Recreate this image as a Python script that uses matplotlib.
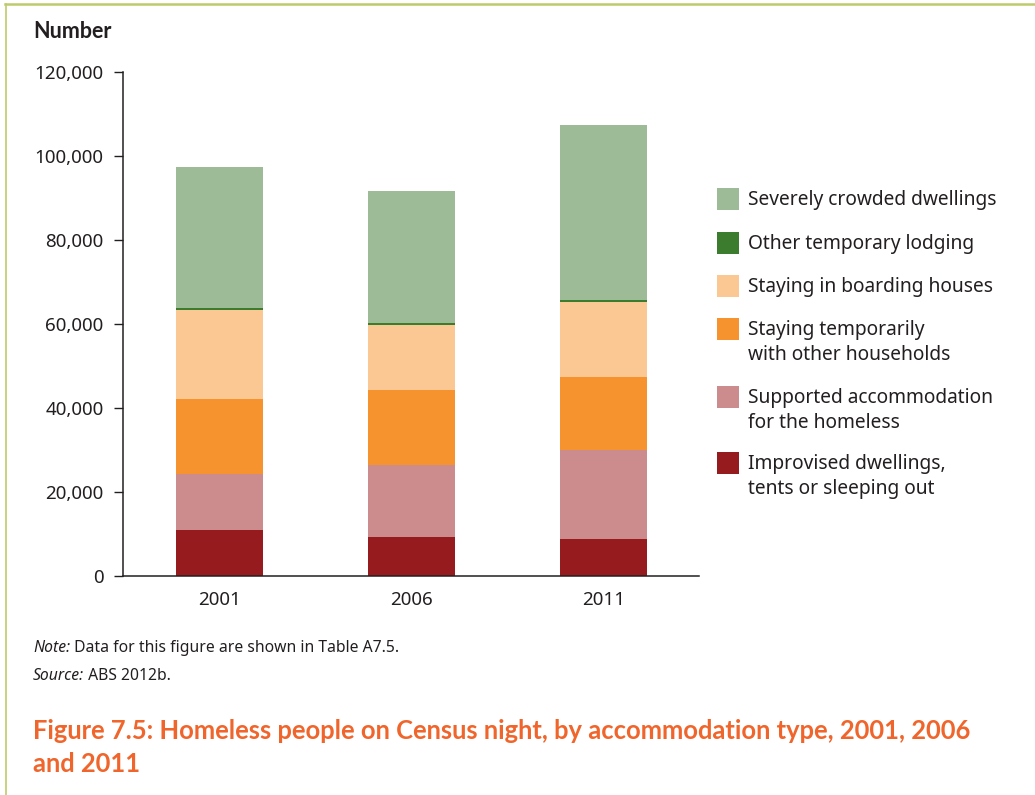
import matplotlib
matplotlib.use("Agg")
import matplotlib.pyplot as plt
from matplotlib.patches import Rectangle
from matplotlib.lines import Line2D
from matplotlib.ticker import FuncFormatter
import numpy as np

plt.rcParams["font.family"] = ["Noto Sans", "DejaVu Sans"]
BOLD = ["Lato", "Open Sans", "DejaVu Sans"]

years = ["2001", "2006", "2011"]

# Stacked from the bottom up
categories = [
    "Improvised dwellings,\ntents or sleeping out",
    "Supported accommodation\nfor the homeless",
    "Staying temporarily\nwith other households",
    "Staying in boarding houses",
    "Other temporary lodging",
    "Severely crowded dwellings",
]
improvised = [11000, 9350, 8800]
supported  = [13270, 17140, 21200]
staying    = [17930, 17790, 17450]
boarding   = [21190, 15470, 17670]
other_temp = [340, 550, 600]
crowded    = [33640, 31360, 41670]
series = [improvised, supported, staying, boarding, other_temp, crowded]

colors = ["#961B1F", "#CC8B8C", "#F7932F", "#FBC894", "#3B7C2E", "#9DBB96"]

INK    = "#231F20"
ORANGE = "#F0652B"
FRAME  = "#BFCB6A"

W, H = 1035, 795
fig = plt.figure(figsize=(W / 100, H / 100), dpi=100)
ax = fig.add_axes([123 / W, 1 - 576 / H, (699 - 123) / W, (576 - 72) / H])

x = np.arange(len(years))
bottom = np.zeros(len(years))
for vals, col in zip(series, colors):
    ax.bar(x, vals, 0.453, bottom=bottom, color=col, linewidth=0)
    bottom += np.array(vals)

ax.set_xlim(-0.503, 2.497)
ax.set_ylim(0, 120000)
ax.set_yticks(np.arange(0, 120001, 20000))
ax.yaxis.set_major_formatter(FuncFormatter(lambda v, p: f"{int(v):,}"))
ax.set_xticks(x)
ax.set_xticklabels(years)

for side in ["top", "right"]:
    ax.spines[side].set_visible(False)
for side in ["left", "bottom"]:
    ax.spines[side].set_color(INK)
    ax.spines[side].set_linewidth(1.1)

ax.tick_params(axis="y", length=6.5, width=1, color=INK, pad=7.5,
               labelsize=13.5, labelcolor=INK)
ax.tick_params(axis="x", length=0, pad=11, labelsize=13.5, labelcolor=INK)

fig.text(33 / W, 1 - 31 / H, "Number", fontsize=15.5, fontweight="bold",
         family=BOLD, color=INK, ha="left", va="center")

# legend, top entry first
legend_rows = [
    (5, 199), (4, 243), (3, 286), (2, 329), (1, 397), (0, 463),
]
for idx, yc in legend_rows:
    fig.patches.append(Rectangle((717 / W, 1 - (yc + 11) / H), 22 / W, 22 / H,
                                 transform=fig.transFigure,
                                 facecolor=colors[idx], edgecolor="none"))
    for k, line in enumerate(categories[idx].split("\n")):
        fig.text(748 / W, 1 - (yc + 1 + 25 * k) / H, line, fontsize=13.8,
                 color=INK, ha="left", va="center")

# notes: italic lead-in followed by regular text
for ypix, lead, rest in [(652, "Note:", " Data for this figure are shown in Table A7.5."),
                         (680, "Source:", " ABS 2012b.")]:
    t = fig.text(33 / W, 1 - ypix / H, lead, fontsize=11.3, color=INK,
                 ha="left", va="baseline", style="italic")
    ax.annotate(rest, xy=(1, 0), xycoords=t, fontsize=11.3, color=INK,
                ha="left", va="bottom", annotation_clip=False)

fig.text(33 / W, 1 - 731 / H,
         "Figure 7.5: Homeless people on Census night, by accommodation type, 2001, 2006",
         fontsize=18.4, fontweight="bold", family=BOLD, color=ORANGE,
         ha="left", va="center")
fig.text(33 / W, 1 - 764 / H, "and 2011",
         fontsize=18.4, fontweight="bold", family=BOLD, color=ORANGE,
         ha="left", va="center")

# page frame
fig.add_artist(Line2D([5 / W, 1], [1 - 4 / H, 1 - 4 / H], color=FRAME,
                      linewidth=1.8, transform=fig.transFigure))
fig.add_artist(Line2D([5.5 / W, 5.5 / W], [0, 1 - 4 / H], color=FRAME,
                      linewidth=1.2, transform=fig.transFigure))

fig.savefig("out.png", dpi=100)
plt.close(fig)
